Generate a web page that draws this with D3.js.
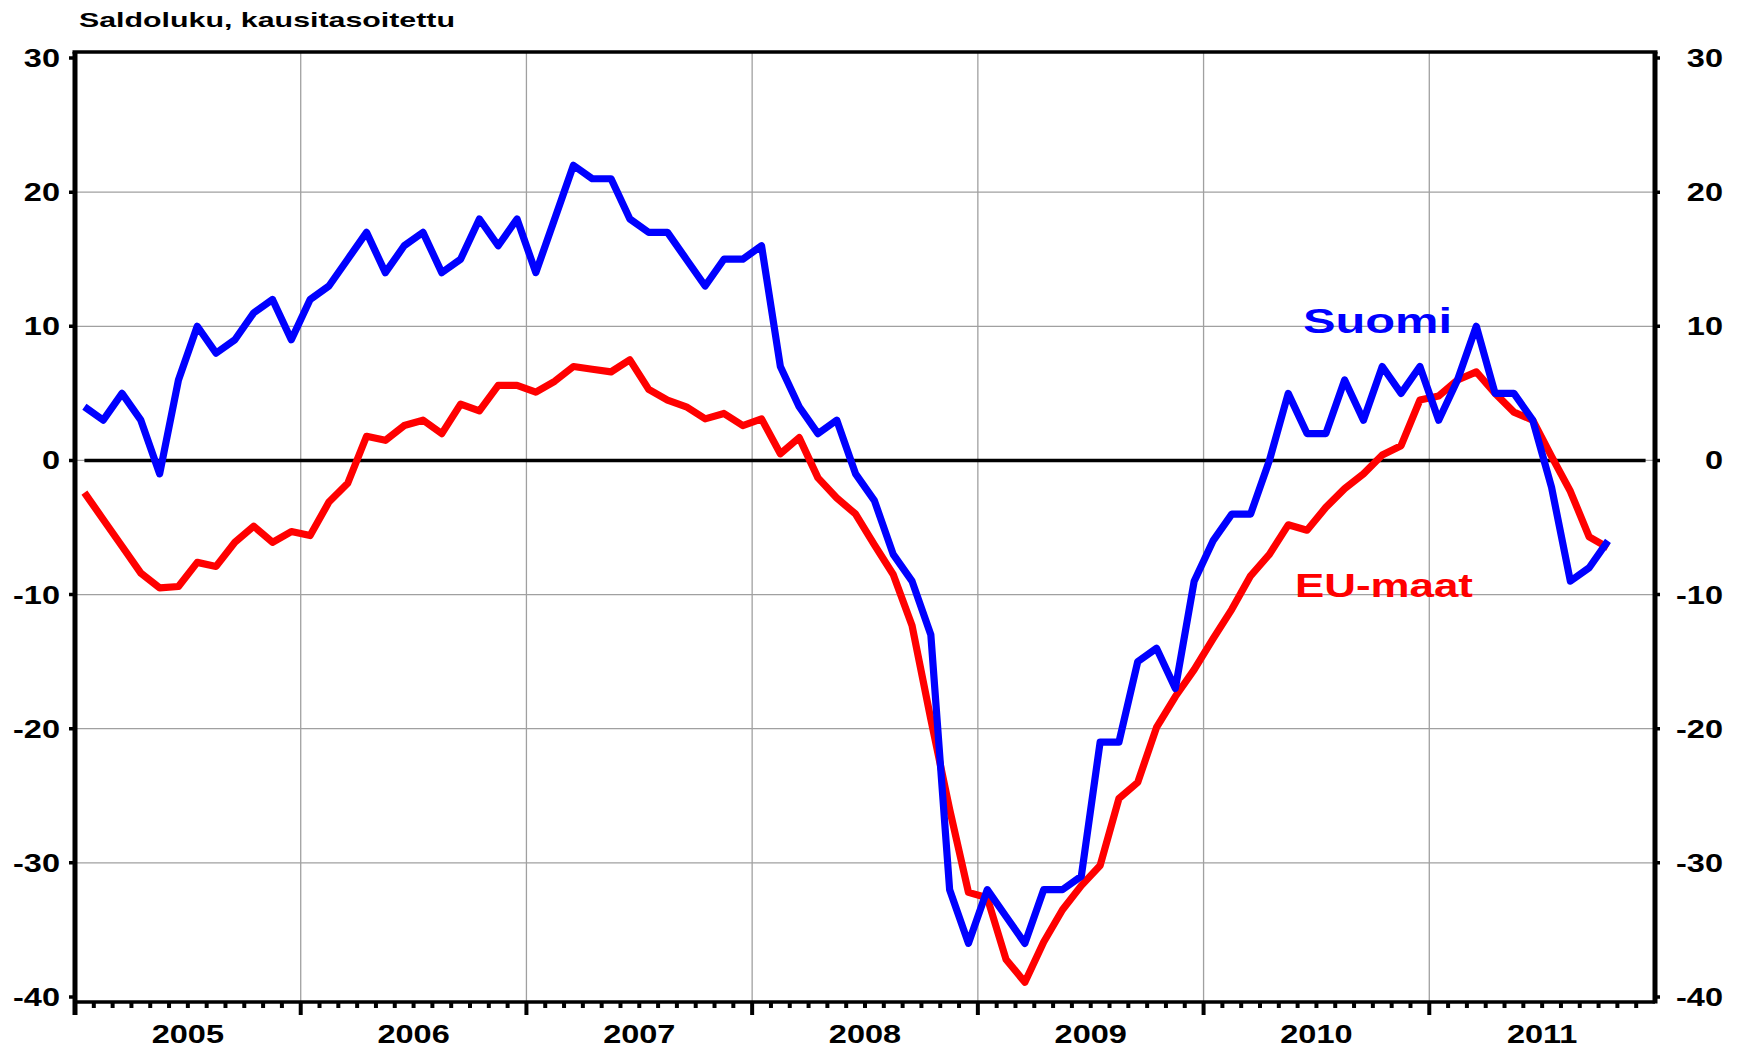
<!DOCTYPE html>
<html>
<head>
<meta charset="utf-8">
<script src="https://cdn.jsdelivr.net/npm/d3@7"></script>
<style>
  body { margin: 0; background: #fff; }
  text { font-family: "Liberation Sans", Arial, sans-serif; font-weight: bold; }
</style>
</head>
<body>
<div id="chart"></div>
<script>
let years = ['2005', '2006', '2007', '2008', '2009', '2010', '2011'];
let months = years.flatMap(function(y){
    return d3.range(1, 13).map(function(m){ return y + '-' + m; });
});
let y_ticks = [30, 20, 10, 0, -10, -20, -30, -40];
let grid_values = [20, 10, 0, -10, -20, -30];

// Suomi, monthly Jan 2005 - Oct 2011
let suomi = [
    4, 3, 5, 3, -1, 6, 10, 8, 9, 11, 12, 9,
    12, 13, 15, 17, 14, 16, 17, 14, 15, 18, 16, 18,
    14, 18, 22, 21, 21, 18, 17, 17, 15, 13, 15, 15,
    16, 7, 4, 2, 3, -1, -3, -7, -9, -13, -32, -36,
    -32, -34, -36, -32, -32, -31, -21, -21, -15, -14, -17, -9,
    -6, -4, -4, 0, 5, 2, 2, 6, 3, 7, 5, 7,
    3, 6, 10, 5, 5, 3, -2, -9, -8, -6
];

// EU-maat, monthly Jan 2005 - Oct 2011
let eu_maat = [
    -2.4, -4.4, -6.4, -8.4, -9.5, -9.4, -7.6, -7.9, -6.1, -4.9, -6.1, -5.3,
    -5.6, -3.1, -1.7, 1.8, 1.5, 2.6, 3.0, 2.0, 4.2, 3.7, 5.6, 5.6,
    5.1, 5.9, 7.0, 6.8, 6.6, 7.5, 5.3, 4.5, 4.0, 3.1, 3.5, 2.6,
    3.1, 0.5, 1.7, -1.3, -2.8, -4.0, -6.3, -8.5, -12.3, -19.3, -26.0, -32.2,
    -32.6, -37.2, -38.9, -35.9, -33.5, -31.7, -30.2, -25.2, -24.0, -19.9, -17.6, -15.6,
    -13.3, -11.1, -8.6, -7.0, -4.8, -5.2, -3.5, -2.1, -1.0, 0.4, 1.1, 4.5,
    4.8, 6.0, 6.6, 5.0, 3.6, 3.0, 0.3, -2.3, -5.7, -6.5
];

let chart_width = 1741;
let chart_height = 1050;
let plot_left = 75, plot_right = 1655, plot_top = 52, plot_bottom = 1002;

let svg = d3.select( '#chart' )
    .append( 'svg' )
    .attr( 'width', chart_width )
    .attr( 'height', chart_height );

svg.append( 'rect' )
    .attr( 'width', chart_width )
    .attr( 'height', chart_height )
    .attr( 'fill', '#fff' );

let x_scale = d3.scaleBand()
    .domain(months)
    .range([plot_left, plot_right]);

let y_scale = d3.scaleLinear()
    .domain([-40, 30])
    .range([997, 58]);

let bw = x_scale.bandwidth();
function mid(i) { return x_scale(months[i]) + bw / 2; }

// stretched bold text, like in the original picture
function label(txt, x, y, size, anchor, color, sx) {
    return svg.append( 'text' )
        .text(txt)
        .attr( 'transform', 'translate(' + x + ',' + y + ') scale(' + sx + ',1)' )
        .attr( 'font-size', size )
        .attr( 'text-anchor', anchor )
        .attr( 'fill', color );
}

// Gridlines
svg.selectAll( '.hgrid' )
    .data(grid_values)
    .enter()
    .append( 'line' )
    .attr( 'x1', plot_left )
    .attr( 'x2', plot_right )
    .attr( 'y1', function(d){ return y_scale(d); } )
    .attr( 'y2', function(d){ return y_scale(d); } )
    .attr( 'stroke', '#a0a0a0' )
    .attr( 'stroke-width', 1.3 );

svg.selectAll( '.vgrid' )
    .data(years.slice(1))
    .enter()
    .append( 'line' )
    .attr( 'x1', function(d){ return x_scale(d + '-1'); } )
    .attr( 'x2', function(d){ return x_scale(d + '-1'); } )
    .attr( 'y1', plot_top )
    .attr( 'y2', plot_bottom )
    .attr( 'stroke', '#a0a0a0' )
    .attr( 'stroke-width', 1.3 );

// Zero line
svg.append( 'line' )
    .attr( 'x1', mid(0) )
    .attr( 'x2', mid(months.length - 1) )
    .attr( 'y1', y_scale(0) )
    .attr( 'y2', y_scale(0) )
    .attr( 'stroke', '#000' )
    .attr( 'stroke-width', 3.5 );

// Lines
let line = d3.line()
    .x(function(d, i){ return mid(i); })
    .y(function(d){ return y_scale(d); });

svg.append( 'path' )
    .datum(eu_maat)
    .attr( 'd', line )
    .attr( 'fill', 'none' )
    .attr( 'stroke', '#ff0000' )
    .attr( 'stroke-width', 7.2 )
    .attr( 'stroke-linejoin', 'round' );

svg.append( 'path' )
    .datum(suomi)
    .attr( 'd', line )
    .attr( 'fill', 'none' )
    .attr( 'stroke', '#0000ff' )
    .attr( 'stroke-width', 7.2 )
    .attr( 'stroke-linejoin', 'round' );

// Frame
svg.append( 'line' ).attr( 'x1', plot_left - 2.5 ).attr( 'x2', plot_right + 2.5 )
    .attr( 'y1', plot_top ).attr( 'y2', plot_top )
    .attr( 'stroke', '#000' ).attr( 'stroke-width', 3.5 );
svg.append( 'line' ).attr( 'x1', plot_left ).attr( 'x2', plot_right )
    .attr( 'y1', plot_bottom ).attr( 'y2', plot_bottom )
    .attr( 'stroke', '#000' ).attr( 'stroke-width', 3.5 );
svg.append( 'line' ).attr( 'x1', plot_left ).attr( 'x2', plot_left )
    .attr( 'y1', plot_top ).attr( 'y2', 1015 )
    .attr( 'stroke', '#000' ).attr( 'stroke-width', 5 );
svg.append( 'line' ).attr( 'x1', plot_right ).attr( 'x2', plot_right )
    .attr( 'y1', plot_top ).attr( 'y2', plot_bottom + 1.5 )
    .attr( 'stroke', '#000' ).attr( 'stroke-width', 5 );

// Month ticks and year ticks
svg.selectAll( '.mtick' )
    .data(months.slice(1))
    .enter()
    .append( 'line' )
    .attr( 'x1', function(d){ return x_scale(d); } )
    .attr( 'x2', function(d){ return x_scale(d); } )
    .attr( 'y1', plot_bottom )
    .attr( 'y2', function(d){ return d.slice(-2) === '-1' ? 1015 : 1008; } )
    .attr( 'stroke', '#000' )
    .attr( 'stroke-width', 4 );

// Y ticks
svg.selectAll( '.ytick' )
    .data(y_ticks)
    .enter()
    .append( 'path' )
    .attr( 'd', function(d){
        let yy = y_scale(d);
        return 'M' + (plot_left - 6) + ',' + yy + 'H' + plot_left + 'M' + plot_right + ',' + yy + 'H' + (plot_right + 5);
    })
    .attr( 'stroke', '#000' )
    .attr( 'stroke-width', 3.5 );

// Y labels both sides
y_ticks.forEach(function(d){
    label(String(d), 60, y_scale(d) + 9, 25, 'end', '#000', 1.3);
    label(String(d), 1723, y_scale(d) + 9, 25, 'end', '#000', 1.3);
});

// Year labels
years.forEach(function(yr){
    label(yr, x_scale(yr + '-1') + bw * 6, 1043, 25, 'middle', '#000', 1.3);
});

// Title and series names
svg.append( 'text' )
    .text( 'Saldoluku, kausitasoitettu' )
    .attr( 'x', 79 )
    .attr( 'y', 27 )
    .attr( 'font-size', 21 )
    .attr( 'textLength', 376 )
    .attr( 'lengthAdjust', 'spacingAndGlyphs' );

svg.append( 'text' )
    .text( 'Suomi' )
    .attr( 'x', 1303 )
    .attr( 'y', 333 )
    .attr( 'font-size', 35 )
    .attr( 'fill', '#0000ff' )
    .attr( 'textLength', 149 )
    .attr( 'lengthAdjust', 'spacingAndGlyphs' );

svg.append( 'text' )
    .text( 'EU-maat' )
    .attr( 'x', 1295 )
    .attr( 'y', 597 )
    .attr( 'font-size', 34 )
    .attr( 'fill', '#ff0000' )
    .attr( 'textLength', 178 )
    .attr( 'lengthAdjust', 'spacingAndGlyphs' );
</script>
</body>
</html>
